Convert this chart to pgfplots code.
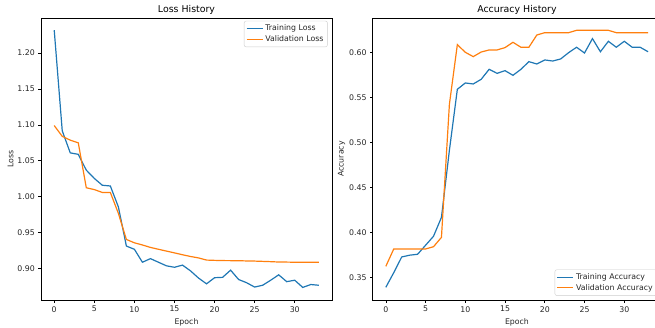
\documentclass[border=0pt]{standalone}
\usepackage{pgfplots}
\pgfplotsset{compat=1.18}
\usepackage{fontspec}
\setmainfont{DejaVu Sans}
\definecolor{C0}{RGB}{31,119,180}
\definecolor{C1}{RGB}{255,127,14}
\pgfplotsset{
  mpl/.style={
    scale only axis,
    height=282pt,
    xmin=-1.65, xmax=34.65,
    xtick={0,5,...,30},
    axis line style={line width=0.6pt},
    tick align=outside,
    tick pos=lower,
    major tick length=2.7pt,
    every tick/.style={line width=0.6pt, black},
    tick label style={font=\fontsize{7.8}{9}\selectfont, text=black!85},
    label style={font=\fontsize{7.8}{9}\selectfont, text=black!85},
    every axis title shift=0pt,
    title style={font=\fontsize{9.4}{11}\selectfont, at={(0.5,1)}, anchor=south, yshift=0pt},
    /pgf/number format/assume math mode=true,
    yticklabel style={/pgf/number format/.cd, fixed, fixed zerofill, precision=2},
    legend style={font=\fontsize{7.8}{9}\selectfont, text=black!85, draw=black!20, rounded corners=2pt, inner sep=2pt, row sep=-1pt},
    legend cell align=left,
    legend image code/.code={\draw[#1] (0pt,0pt) -- (16pt,0pt);},
    legend image post style={line width=1.2pt},
    every axis plot/.append style={line width=1.2pt},
    xlabel={Epoch},
    ylabel shift=-3pt,
  }
}
\pgfplotstableread{
e trl vl tra va
0 1.2315 1.099 0.3393 0.3626
1 1.0917 1.084 0.3556 0.3819
2 1.061 1.0787 0.373 0.3819
3 1.059 1.075 0.375 0.3819
4 1.037 1.0125 0.376 0.3819
5 1.0255 1.010 0.386 0.3819
6 1.016 1.006 0.396 0.3844
7 1.015 1.006 0.417 0.3948
8 0.986 0.977 0.4915 0.5426
9 0.9315 0.9407 0.5593 0.6089
10 0.927 0.936 0.5663 0.6004
11 0.909 0.933 0.5652 0.5956
12 0.914 0.9296 0.5704 0.6007
13 0.909 0.927 0.5815 0.603
14 0.904 0.9245 0.577 0.603
15 0.902 0.922 0.580 0.6056
16 0.905 0.9194 0.5748 0.6115
17 0.897 0.917 0.5815 0.606
18 0.887 0.915 0.590 0.606
19 0.879 0.912 0.5874 0.6196
20 0.8875 0.9116 0.5919 0.6222
21 0.888 0.9113 0.5907 0.6222
22 0.898 0.9112 0.593 0.6222
23 0.885 0.9111 0.600 0.6222
24 0.8805 0.9108 0.606 0.6248
25 0.8745 0.9106 0.5996 0.6248
26 0.877 0.9102 0.6156 0.6248
27 0.884 0.9098 0.601 0.6248
28 0.8915 0.9093 0.6126 0.6248
29 0.882 0.9092 0.606 0.6222
30 0.884 0.909 0.6126 0.6222
31 0.874 0.909 0.606 0.6222
32 0.878 0.909 0.606 0.6222
33 0.877 0.909 0.601 0.6222
}\hist
\begin{document}
\begin{tikzpicture}
\useasboundingbox (0,0) rectangle (655pt,327pt);
\begin{axis}[mpl,
  at={(41pt,27pt)}, anchor=south west,
  width=291pt,
  ymin=0.8565, ymax=1.2485,
  ytick={0.90,0.95,1.00,1.05,1.10,1.15,1.20},
  title={Loss History},
  ylabel={Loss},
  legend style={at={(0.985,0.99)}, anchor=north east},
]
\addplot[C0] table[x=e, y=trl] {\hist};
\addlegendentry{Training Loss}
\addplot[C1] table[x=e, y=vl] {\hist};
\addlegendentry{Validation Loss}
\end{axis}
\begin{axis}[mpl,
  at={(372.7pt,27pt)}, anchor=south west,
  width=288.5pt,
  ymin=0.3252, ymax=0.6385,
  ytick={0.35,0.40,0.45,0.50,0.55,0.60},
  title={Accuracy History},
  ylabel={Accuracy},
  legend style={at={(0.985,0.015)}, anchor=south east},
]
\addplot[C0] table[x=e, y=tra] {\hist};
\addlegendentry{Training Accuracy}
\addplot[C1] table[x=e, y=va] {\hist};
\addlegendentry{Validation Accuracy}
\end{axis}
\end{tikzpicture}
\end{document}
